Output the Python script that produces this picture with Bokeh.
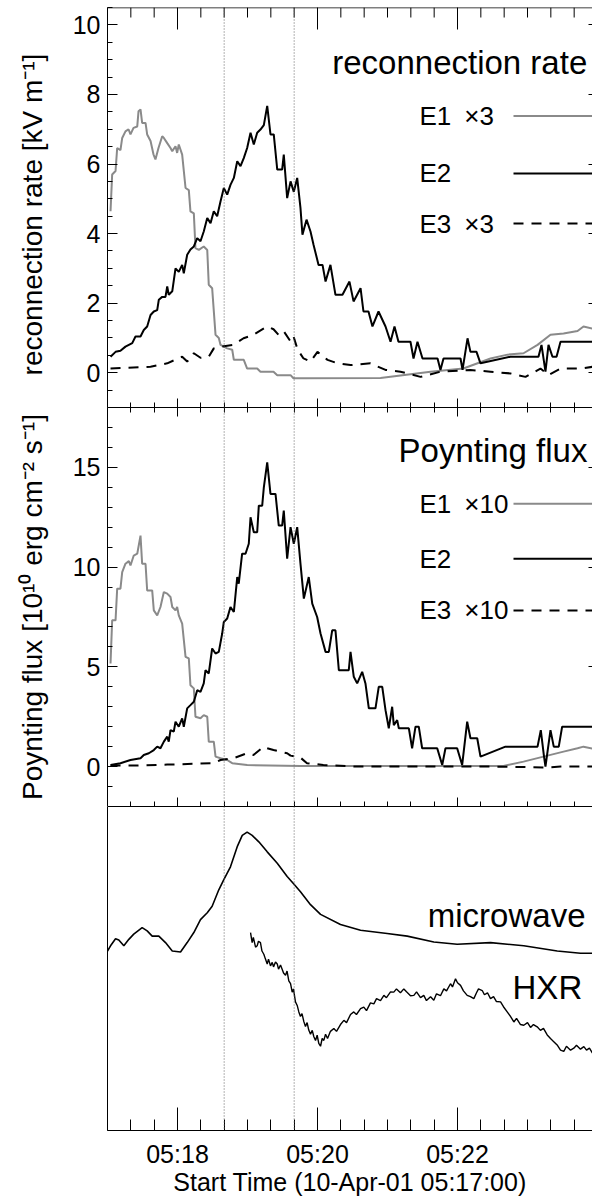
from bokeh.plotting import figure
from bokeh.models import LinearAxis, FixedTicker, Range1d, Span, Label
from bokeh.layouts import column
from bokeh.embed import file_html
from bokeh.resources import INLINE

# ---------------- data (time in seconds after 05:17:00) ----------------
x_major = [60, 180, 300]
x_major_labels = ["05:18", "05:20", "05:22"]
x_minor = list(range(0, 420, 20))
marker_times = [100, 160]
x_title = "Start Time (10-Apr-01 05:17:00)"

rr_major = [0, 2, 4, 6, 8, 10]
rr_minor = [v / 2 for v in range(-2, 22)]
pf_major = [0, 5, 10, 15]
pf_minor = list(range(-2, 19))

rr_label = "reconnection rate [kV m\u207b\u00b9]\u2002"
pf_label = "Poynting flux [10\u00b9\u2070 erg cm\u207b\u00b2 s\u207b\u00b9]"

# reconnection rate, E1 x3 (gray)
rr_e1 = [(2.6,4.64),(4,5.7),(6.9,5.8),(8.3,6.46),(11.1,6.4),(12.6,6.75),(15.4,6.94),(18,7.0),
         (19.7,6.85),(22.3,7.04),(25.5,7.08),(26.6,7.52),(28.3,7.57),(29.7,7.18),(32.6,7.18),
         (34,6.85),(36.9,6.66),(39.4,6.28),(41.1,6.13),(43.7,6.46),(46.9,6.8),(48.3,6.75),
         (51.2,6.6),(54,6.46),(55.5,6.37),(58.3,6.51),(59.7,6.32),(61.1,6.56),(64,6.27),
         (66.9,5.31),(69.7,5.25),(71.1,4.64),(74,4.58),(75.4,3.58),(78.3,3.53),(82.5,3.63),
         (85.5,3.53),(86.8,2.53),(89.7,2.43),(92.6,1.09),(95.4,1.0),(96.9,0.8),(102.6,0.7),
         (106.9,0.66),(108.3,0.37),(116.8,0.37),(119.7,0.12),(128.3,0.12),(131.1,0.03),
         (142.3,0.03),(145.5,-0.07),(156.9,-0.07),(159.4,-0.16),(165.4,-0.16),(234,-0.15),
         (276.9,0.03),(305,0.12),(328.3,0.41),(342.9,0.52),(356.6,0.56),(368.6,0.8),
         (379.7,1.09),(390.9,1.13),(402.9,1.2),(408,1.33),(415.7,1.27)]
# reconnection rate, E2
rr_e2 = [(2.6,0.46),(6.9,0.6),(11.1,0.63),(15.4,0.75),(21.2,0.85),(24,1.04),(28.3,1.04),
         (31.1,1.23),(34,1.33),(36.9,1.66),(39.7,1.76),(42.6,1.8),(44,2.1),(46.9,2.18),
         (49.7,2.18),(51.2,2.48),(52.5,2.24),(55.5,2.34),(58.3,3.0),(61.1,2.9),(64,3.1),
         (65.4,2.86),(68.3,3.39),(71.1,3.54),(74,3.63),(76.9,3.87),(79.7,3.78),(82.5,4.06),
         (85.5,4.45),(88.3,4.3),(91.1,4.64),(94,4.5),(96.9,4.93),(99.7,5.31),(102.6,5.12),
         (105.4,5.4),(108.3,5.6),(111.2,6.08),(114,5.94),(116.8,6.17),(119.7,6.46),(122.6,6.9),
         (125.4,6.56),(128.3,6.9),(131.1,6.99),(134,7.12),(136.9,7.67),(139.7,6.85),
         (142.5,6.85),(145.5,5.84),(149.7,5.84),(151.1,6.27),(154,5.02),(156.9,5.5),
         (159.7,5.2),(162.6,5.6),(165.4,4.74),(167.1,3.97),(170.6,4.4),(174,4.06),(176.6,3.68),
         (180.9,3.1),(184.3,3.1),(186.9,2.62),(191.1,3.1),(195.4,2.24),(201.4,2.24),
         (207.4,2.62),(210.9,2.05),(216.9,2.43),(219.4,1.76),(223.7,1.76),(227.1,1.33),
         (232.3,1.76),(238.3,1.33),(242.6,0.89),(246,1.33),(249.4,0.89),(259.7,0.89),
         (262.3,0.41),(265.7,0.89),(270,0.41),(282.9,0.41),(285.4,0.08),(288,0.41),
         (302.6,0.41),(304.3,0.08),(308.6,0.99),(311.1,0.6),(316.3,0.6),(319.7,0.27),
         (345.4,0.46),(369.4,0.46),(372,0.8),(375.4,0.03),(378,0.8),(381.4,0.46),
         (384.9,0.46),(388.3,0.89),(415.7,0.89)]
# reconnection rate, E3 x3 (dashed)
rr_e3 = [(2.6,0.12),(36.9,0.17),(51.2,0.27),(64,0.46),(68.3,0.32),(74,0.56),(79.7,0.43),
         (86.8,0.46),(91.1,0.7),(96.9,0.75),(108,0.8),(116.6,0.99),(125.1,1.09),(136.9,1.33),
         (142.3,1.25),(146.6,1.09),(150.9,1.2),(156.9,0.9),(159.4,1.05),(162.9,0.67),
         (168,0.41),(174,0.32),(180,0.6),(188.6,0.37),(197.1,0.27),(208.3,0.22),(225.4,0.27),
         (238.3,0.08),(251.1,0.03),(268.3,-0.12),(285.4,0.03),(311.1,0.08),(328.3,0.03),
         (345.4,-0.02),(358.3,-0.12),(371.1,0.12),(378,-0.07),(388.3,0.12),(405.4,0.12),
         (415.7,0.17)]

# Poynting flux, E1 x10 (gray)
pf_e1 = [(2.6,5.17),(4,7.33),(6.9,7.33),(8.3,8.92),(11.1,8.92),(12.6,9.75),(15.4,10.17),
         (18.3,10.3),(19.7,10.08),(22.5,10.58),(25.5,10.67),(28.3,11.58),(29.7,10.17),
         (32.6,10.17),(34,8.83),(38.3,8.83),(39.7,7.83),(42.6,7.58),(45.4,8.0),(48.3,8.75),
         (51.2,8.67),(54,8.5),(55.5,8.0),(58.3,7.83),(59.7,8.0),(61.1,7.58),(64,7.17),
         (66.9,5.5),(69.7,5.42),(71.1,4.08),(74,3.92),(75.4,2.5),(79.7,2.42),(82.5,2.58),
         (85.5,2.5),(86.8,1.25),(91.1,1.25),(92.6,0.5),(96.9,0.42),(102.6,0.33),(106.9,0.17),
         (119.7,0.08),(165.4,0.03),(339.4,0.03),(356.6,0.25),(373.7,0.5),(390.9,0.75),
         (402.9,0.92),(408,1.0),(415.7,0.9)]
# Poynting flux, E2
pf_e2 = [(2.6,0.08),(11.1,0.17),(19.7,0.33),(28.3,0.42),(31.1,0.58),(35.4,0.67),(39.7,0.83),
         (42.6,1.0),(45.4,0.92),(48.3,1.25),(51.2,1.5),(52.5,1.25),(54,1.83),(56.8,1.75),
         (58.3,2.25),(61.1,2.0),(64,2.42),(65.4,2.0),(68.3,2.92),(71.1,3.08),(74,3.25),
         (76.9,3.83),(79.7,3.75),(82.5,4.17),(84,4.83),(86.8,4.67),(89.7,5.92),(92.6,5.67),
         (95.4,5.75),(98.3,6.67),(99.7,7.25),(102.6,7.42),(105.4,8.0),(108.3,7.75),(111.2,9.5),
         (112.5,9.17),(115.4,10.67),(118.3,10.67),(121.1,11.17),(122.6,12.5),(125.4,11.75),
         (128.3,11.75),(129.7,13.08),(132.6,13.08),(134,14.0),(136.9,15.25),(139.7,13.67),
         (144,13.67),(146.8,12.08),(149.7,12.08),(151.1,12.83),(154,10.42),(156.9,12.0),
         (159.7,11.17),(162.6,12.0),(165.4,10.17),(168.3,8.42),(172.5,9.5),(175.5,8.17),
         (179.7,7.5),(182.6,6.67),(186.9,5.75),(189.7,5.75),(192.6,6.83),(195.4,6.83),
         (198.3,4.83),(206.8,4.83),(208.3,5.75),(211.1,4.5),(214,4.17),(218.3,4.75),
         (221.1,4.17),(224,2.92),(229.7,2.92),(232.5,4.0),(235.5,4.0),(238.3,2.83),
         (241.1,1.92),(244,3.0),(245.4,2.08),(248.3,2.33),(249.7,1.92),(258.3,1.92),
         (261.1,0.92),(264,2.0),(266.8,2.0),(269.7,0.92),(282.6,0.92),(286.9,0.08),
         (289.7,0.92),(299.7,0.92),(304,0.08),(308.3,2.25),(311.1,1.42),(316.9,1.42),
         (319.7,0.5),(341.1,1.0),(368.6,1.0),(371.4,1.83),(374,0.58),(375.4,0.0),(379.7,1.83),
         (382.5,1.0),(386.8,1.0),(389.7,2.0),(415.7,2.0)]
# Poynting flux, E3 x10 (dashed)
pf_e3 = [(2.6,0.05),(22.3,0.05),(51.2,0.1),(79.7,0.15),(91.1,0.17),(96.9,0.33),(108,0.42),
         (119.7,0.67),(125.1,0.58),(134,1.0),(136.9,0.92),(142.3,0.83),(148,0.75),(154,0.67),
         (156.9,0.55),(165.4,0.45),(171,0.17),(185,0.08),(214,0.0),(328,0.0),(356,-0.02),
         (373.7,-0.05),(388.3,0.0),(415.7,0.0)]

# microwave and HXR light curves (arbitrary normalised units, 0-100)
mw = [(0,55.4),(2.6,57.0),(6.9,59.2),(9.7,58.8),(14,57.0),(18.3,59.0),(22.5,60.6),(29.7,62.6),
      (34,61.6),(38.3,60.0),(44,60.0),(49.7,58.0),(55.5,55.4),(62.6,55.1),(68.3,58.0),
      (74,61.1),(79.7,65.1),(85.5,67.2),(89.7,69.2),(95.4,74.3),(99.7,77.4),(105.4,81.4),
      (111.2,87.6),(115.5,91.1),(119.7,92.1),(124,91.1),(129.7,89.1),(136.9,86.0),
      (145.5,82.5),(154,78.4),(159.7,76.1),(165.4,73.7),(174,69.7),(182.6,66.7),(199.7,63.6),
      (216.9,61.8),(239.7,60.8),(256.9,60.0),(279.7,58.2),(299.7,57.5),(328.3,58.0),
      (356.8,57.0),(385.5,55.4),(405.4,54.7),(415.7,54.7)]
hxr = [(122.6,61.1),(124,58.0),(125,59.6),(126.9,56.6),(128.3,57.0),(129.4,58.4),(131.1,58.0),
       (132.4,55.4),(134,54.4),(135.4,52.9),(136.9,51.4),(138,52.9),(139.7,50.8),(141.2,51.9),
       (142.3,50.5),(144,52.0),(145.5,51.4),(146.6,49.8),(148.3,51.1),(149.7,49.8),
       (150.9,48.6),(152.6,47.9),(153.9,49.2),(155.4,46.2),(156.9,45.3),(158.3,42.7),
       (159.4,43.7),(161.1,39.7),(162.6,38.6),(164,36.6),(165.4,35.2),(166.7,36.1),
       (168.3,33.6),(169.7,32.1),(171.1,33.3),(172.5,31.0),(174,29.7),(175.5,30.9),
       (176.8,29.0),(178.3,27.8),(179.7,29.4),(181.1,26.9),(182.6,26.0),(184,28.4),
       (185.4,27.8),(186.9,29.7),(188.6,28.4),(191.1,30.6),(194,31.5),(196.3,30.6),
       (199.7,32.7),(202.6,34.0),(204.9,33.3),(208.3,35.8),(211.1,36.6),(213.4,35.8),
       (216.9,37.6),(219.7,38.1),(222,37.0),(225.4,39.4),(228.3,39.1),(230.6,40.7),
       (234,40.1),(236.9,41.7),(239.1,41.0),(242.6,42.8),(245.4,42.7),(247.7,43.7),
       (251.1,42.5),(254,43.7),(256.3,42.8),(259.7,41.6),(262.6,41.7),(264.9,42.8),
       (268.3,41.0),(271.1,41.7),(273.4,40.1),(276.9,41.3),(279.7,40.2),(282,42.2),
       (285.4,41.6),(288.3,43.7),(290.6,43.1),(294,45.3),(295.7,44.3),(298.3,46.8),
       (300,45.6),(302.6,44.8),(305.1,43.1),(308.3,41.7),(311.1,41.3),(314,40.7),
       (316.3,42.5),(318,43.7),(321.2,43.2),(323.1,41.9),(325.7,42.5),(328.3,40.7),
       (330.9,41.3),(333.4,39.8),(336.9,39.7),(339.4,38.2),(342.6,36.6),(345.4,35.2),
       (348.3,33.5),(350.6,34.6),(354,32.7),(356.8,32.5),(360,33.3),(362.6,31.8),
       (365.1,32.7),(368.3,32.0),(371.1,30.9),(373.7,31.5),(376.9,29.5),(379.7,28.4),
       (382.3,27.5),(385.4,26.4),(388.3,24.8),(391.1,24.4),(393.4,26.0),(396.9,24.8),
       (399.7,25.4),(402,26.3),(405.4,25.1),(408.3,25.9),(410.6,24.8),(413.1,25.4),
       (415.7,23.9)]

# ---------------- layout ----------------
FONT = "Liberation Sans"
W = 592
LEFT = 107
XMAX = (W - LEFT) * 60 / 70   # 70 px per minute
GRAY = "#8a8a8a"
xr = Range1d(0, XMAX)
P1_Y = (-1, 10.5)
P1_FRAME = 400   # px


def xs(pairs):
    return [a for a, b in pairs]


def ys(pairs):
    return [b for a, b in pairs]


def make_fig(h, y0, y1, top=0):
    p = figure(width=W, height=h, x_range=xr, y_range=Range1d(y0, y1), title=None,
               x_axis_type=None, y_axis_type=None, toolbar_location=None,
               output_backend="svg", min_border_left=LEFT, min_border_right=0,
               min_border_top=top, min_border_bottom=0, outline_line_color=None,
               background_fill_color="white", border_fill_color="white")
    return p


def spans(p):
    for t in marker_times:
        p.add_layout(Span(location=t, dimension="height", line_color="#666666",
                          line_dash="1 2", line_width=1))


def tick_axis(p, side, positions, length, line, out=0):
    ax = LinearAxis(ticker=FixedTicker(ticks=[], minor_ticks=positions),
                    major_tick_in=0, major_tick_out=out, minor_tick_in=length,
                    minor_tick_out=0, major_label_standoff=0,
                    minor_tick_line_color="black", minor_tick_line_width=1,
                    axis_line_color="black" if line else None, axis_line_width=1)
    p.add_layout(ax, side)


def x_ticks(p, side, short, long, line, out=0):
    tick_axis(p, side, x_minor, short, line, out)
    tick_axis(p, side, x_major, long, False, out)


def y_axis(p, majors, minors, label):
    ax = LinearAxis(ticker=FixedTicker(ticks=majors, minor_ticks=minors), axis_label=label,
                    major_tick_in=10, major_tick_out=0, minor_tick_in=5, minor_tick_out=0,
                    major_label_standoff=7, axis_label_standoff=22,
                    major_label_text_font=FONT, major_label_text_font_size="25px",
                    major_label_text_color="black",
                    axis_label_text_font=FONT, axis_label_text_font_size="28px",
                    axis_label_text_font_style="normal", axis_label_text_color="black",
                    axis_line_color="black", major_tick_line_color="black",
                    minor_tick_line_color="black")
    p.add_layout(ax, "left")
    rax = LinearAxis(ticker=FixedTicker(ticks=[], minor_ticks=majors),
                     major_tick_in=0, major_tick_out=0, minor_tick_in=4,
                     minor_tick_out=0, major_label_standoff=0, axis_line_color=None,
                     minor_tick_line_color="black")
    p.add_layout(rax, "right")


def text(p, x, y, s, size, align, baseline):
    p.add_layout(Label(x=x, y=y, text=s, text_font=FONT, text_font_size=size,
                       text_align=align, text_baseline=baseline, text_color="black"))


def legend(p, rows, labels):
    styles = [dict(line_color=GRAY), dict(line_color="black"),
              dict(line_color="black", line_dash="10 8")]
    for yy, lab, st in zip(rows, labels, styles):
        text(p, 267.4, yy, lab, "26px", "left", "middle")
        p.line([348, XMAX], [yy, yy], line_width=2, **st)


# ---- panel 1: reconnection rate ----
p1 = make_fig(407, P1_Y[0], P1_Y[1], top=7)
x_ticks(p1, "below", 5, 9, False)
y_axis(p1, rr_major, rr_minor, rr_label)
spans(p1)
# top frame edge with inward ticks (long at the labelled minutes, short every 20 s)
unit = (P1_Y[1] - P1_Y[0]) / P1_FRAME
p1.add_layout(Span(location=P1_Y[1], dimension="width", line_color="black", line_width=1.5))
p1.segment(x0=x_minor, y0=[P1_Y[1]] * len(x_minor), x1=x_minor,
           y1=[P1_Y[1] - 10 * unit] * len(x_minor), line_color="black", line_width=1)
p1.segment(x0=x_major, y0=[P1_Y[1]] * len(x_major), x1=x_major,
           y1=[P1_Y[1] - 22 * unit] * len(x_major), line_color="black", line_width=1)
p1.line(xs(rr_e1), ys(rr_e1), line_color=GRAY, line_width=2)
p1.line(xs(rr_e2), ys(rr_e2), line_color="black", line_width=2)
p1.line(xs(rr_e3), ys(rr_e3), line_color="black", line_width=2, line_dash="10 8")
text(p1, 411.2, 8.92, "reconnection rate", "33px", "right", "alphabetic")
legend(p1, [7.38, 5.73, 4.29], ["E1\u2002\u00d73", "E2", "E3\u2002\u00d73"])

# ---- panel 2: Poynting flux ----
p2 = make_fig(399, -2, 18)
x_ticks(p2, "above", 5, 9, True)
x_ticks(p2, "below", 5, 9, False)
y_axis(p2, pf_major, pf_minor, pf_label)
spans(p2)
p2.line(xs(pf_e1), ys(pf_e1), line_color=GRAY, line_width=2)
p2.line(xs(pf_e2), ys(pf_e2), line_color="black", line_width=2)
p2.line(xs(pf_e3), ys(pf_e3), line_color="black", line_width=2, line_dash="10 8")
text(p2, 411.4, 15.83, "Poynting flux", "33px", "right", "alphabetic")
legend(p2, [13.17, 10.42, 7.83], ["E1\u2002\u00d710", "E2", "E3\u2002\u00d710"])

# ---- panel 3: light curves ----
p3 = make_fig(392, 0, 100)
tick_axis(p3, "above", [], 0, True)
p3.add_layout(LinearAxis(ticker=FixedTicker(ticks=[], minor_ticks=[]), major_tick_in=0,
                         major_tick_out=0, major_label_standoff=0,
                         axis_line_color="black"), "left")
bx = LinearAxis(ticker=FixedTicker(ticks=x_major, minor_ticks=x_minor),
                major_label_overrides=dict(zip(x_major, x_major_labels)),
                axis_label=x_title,
                major_tick_in=23, major_tick_out=0, minor_tick_in=11, minor_tick_out=0,
                major_label_standoff=9, axis_label_standoff=-3,
                major_label_text_font=FONT, major_label_text_font_size="25px",
                major_label_text_color="black",
                axis_label_text_font=FONT, axis_label_text_font_size="25px",
                axis_label_text_font_style="normal", axis_label_text_color="black",
                axis_line_color="black", major_tick_line_color="black",
                minor_tick_line_color="black")
p3.add_layout(bx, "below")
spans(p3)
p3.line(xs(mw), ys(mw), line_color="black", line_width=1.6)
p3.line(xs(hxr), ys(hxr), line_color="black", line_width=1.4)
text(p3, 409.7, 66.5, "microwave", "33px", "right", "alphabetic")
text(p3, 406.9, 44.1, "HXR", "33px", "right", "alphabetic")

layout = column(p1, p2, p3, spacing=0)
open("out.html", "w").write(file_html(layout, INLINE))
